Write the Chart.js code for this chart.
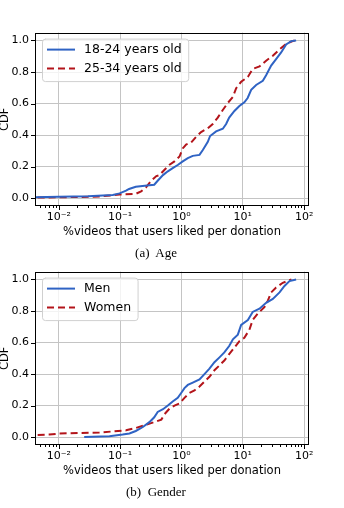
<!DOCTYPE html>
<html><head><meta charset="utf-8">
<script src="https://cdn.jsdelivr.net/npm/chart.js@4.4.1/dist/chart.umd.min.js"></script>
<style>
html,body{margin:0;padding:0;background:#fff;width:344px;height:508px;overflow:hidden;position:relative}
.c{position:absolute;left:0;width:330px;height:226px}
.cap{position:absolute;left:0;width:312px;height:16px;line-height:16px;text-align:center;font-family:"Liberation Serif","DejaVu Serif",serif;font-size:13px;color:#000;white-space:pre}
</style></head><body>
<div class="c" style="top:20px"><canvas id="c1" width="330" height="226"></canvas></div>
<div class="c" style="top:259px"><canvas id="c2" width="330" height="226"></canvas></div>
<div class="cap" style="top:245px">(a)  Age</div>
<div class="cap" style="top:484px">(b)  Gender</div>
<script>
// ---- data ----
const ageYoungLabel = '18-24 years old';
const ageYoungX = [0.003, 0.01, 0.03, 0.076, 0.098, 0.125, 0.14, 0.18, 0.30, 0.36, 0.41, 0.50, 0.60, 0.72, 0.87, 1.05, 1.27, 1.53, 1.97, 2.23, 2.69, 2.93, 3.67, 4.72, 5.35, 6.0, 7.3, 8.8, 10.6, 12.0, 13.7, 16.5, 21.2, 24, 29, 34.9, 42.2, 50.9, 61.6, 74];
const ageYoungY = [0.005, 0.008, 0.012, 0.02, 0.03, 0.047, 0.058, 0.072, 0.082, 0.085, 0.11, 0.146, 0.17, 0.19, 0.21, 0.233, 0.254, 0.268, 0.274, 0.305, 0.357, 0.394, 0.423, 0.44, 0.47, 0.511, 0.553, 0.584, 0.608, 0.635, 0.687, 0.718, 0.744, 0.779, 0.841, 0.882, 0.924, 0.975, 0.996, 1.0];

const ageOldLabel = '25-34 years old';
const ageOldX = [0.003, 0.01, 0.046, 0.098, 0.18, 0.22, 0.265, 0.32, 0.39, 0.44, 0.53, 0.64, 0.77, 0.93, 1.05, 1.19, 1.44, 1.73, 2.09, 2.69, 3.24, 3.91, 4.72, 5.7, 6.87, 7.8, 9.4, 12.1, 14.5, 18.7, 24, 30.9, 39.7, 50.9, 65, 70];
const ageOldY = [0.004, 0.005, 0.01, 0.023, 0.027, 0.043, 0.068, 0.109, 0.14, 0.146, 0.18, 0.212, 0.233, 0.264, 0.315, 0.34, 0.353, 0.388, 0.419, 0.443, 0.47, 0.511, 0.559, 0.604, 0.641, 0.697, 0.738, 0.769, 0.82, 0.835, 0.872, 0.903, 0.944, 0.979, 0.996, 1.0];

const menLabel = 'Men';
const menX = [0.026, 0.067, 0.11, 0.142, 0.18, 0.235, 0.30, 0.36, 0.41, 0.50, 0.60, 0.72, 0.87, 0.99, 1.12, 1.27, 1.53, 1.97, 2.37, 2.86, 3.45, 4.17, 5.0, 6.0, 6.9, 8.3, 9.4, 12.1, 14.5, 18.7, 24, 30.9, 39.7, 47.8, 57.7, 74];
const menY = [0.0, 0.006, 0.016, 0.023, 0.039, 0.064, 0.095, 0.126, 0.16, 0.177, 0.2, 0.226, 0.249, 0.28, 0.311, 0.331, 0.346, 0.366, 0.40, 0.434, 0.475, 0.506, 0.537, 0.578, 0.62, 0.65, 0.712, 0.743, 0.794, 0.815, 0.852, 0.877, 0.918, 0.959, 0.99, 1.0];

const womenLabel = 'Women';
const womenX = [0.003, 0.007, 0.0102, 0.046, 0.125, 0.18, 0.265, 0.39, 0.47, 0.53, 0.64, 0.77, 0.93, 1.12, 1.35, 1.63, 1.97, 2.37, 2.86, 3.45, 4.17, 5.0, 6.0, 7.3, 8.8, 10.6, 12.8, 14.5, 17.6, 22.5, 25.6, 29, 34.9, 44.9, 57.7, 62];
const womenY = [0.012, 0.016, 0.023, 0.029, 0.043, 0.058, 0.078, 0.10, 0.111, 0.146, 0.181, 0.2, 0.214, 0.249, 0.28, 0.296, 0.321, 0.352, 0.383, 0.424, 0.455, 0.486, 0.527, 0.568, 0.609, 0.63, 0.681, 0.743, 0.784, 0.825, 0.866, 0.918, 0.949, 0.979, 0.996, 1.0];

const yTickValues = [0, 0.2, 0.4, 0.6, 0.8, 1.0];
const yTickLabels = ['0.0', '0.2', '0.4', '0.6', '0.8', '1.0'];
const xMajorValues = [0.01, 0.1, 1, 10, 100];
const xMajorLabels = ['10\u207B\u00B2', '10\u207B\u00B9', '10\u2070', '10\u00B9', '10\u00B2'];
const xAxisTitle = '%videos that users liked per donation';
const yAxisTitle = 'CDF';
const X_MIN = 0.0041, X_MAX = 120, Y_MIN = -0.05, Y_MAX = 1.05;

// ---- styles ----
const BLUE = '#2f63c4', RED = '#b3141a', GRID = '#c4c4c4';
Chart.defaults.font.family = '"DejaVu Sans", sans-serif';
Chart.defaults.color = '#000';

function buildXTicks() {
  const t = [];
  for (let e = -3; e <= 2; e++) {
    for (let m = 1; m <= 9; m++) {
      const v = +(m * Math.pow(10, e)).toPrecision(6);
      if (v >= X_MIN && v <= X_MAX) t.push({ value: v, major: m === 1 });
    }
  }
  return t;
}

const deco = {
  id: 'deco',
  afterDatasetsDraw(chart) {
    const { ctx, chartArea: a } = chart;
    ctx.save();
    ctx.font = '12.5px "DejaVu Sans"';
    const ds = chart.data.datasets;
    const tw = Math.max(...ds.map(d => ctx.measureText(d.label).width));
    const bx = a.left + 7, by = a.top + 6, bw = 42 + tw + 7, bh = 43, r = 3;
    ctx.beginPath();
    ctx.moveTo(bx + r, by + 0.5);
    ctx.arcTo(bx + bw, by + 0.5, bx + bw, by + bh, r);
    ctx.arcTo(bx + bw, by + bh, bx, by + bh, r);
    ctx.arcTo(bx + 0.5, by + bh, bx + 0.5, by, r);
    ctx.arcTo(bx + 0.5, by + 0.5, bx + bw, by + 0.5, r);
    ctx.closePath();
    ctx.fillStyle = 'rgba(255,255,255,0.8)';
    ctx.fill();
    ctx.strokeStyle = '#d0d0d0';
    ctx.lineWidth = 1;
    ctx.stroke();
    ds.forEach((d, i) => {
      const y = by + 11 + i * 19;
      ctx.beginPath();
      ctx.setLineDash(d.borderDash || []);
      ctx.strokeStyle = d.borderColor;
      ctx.lineWidth = 2;
      ctx.moveTo(bx + 5, y);
      ctx.lineTo(bx + 33, y);
      ctx.stroke();
      ctx.setLineDash([]);
      ctx.fillStyle = '#000';
      ctx.textBaseline = 'middle';
      ctx.textAlign = 'left';
      ctx.fillText(d.label, bx + 42, y + 0.5);
    });
    ctx.restore();
  },
  afterDraw(chart) {
    const { ctx, chartArea: a, scales } = chart;
    ctx.save();
    ctx.strokeStyle = '#000';
    ctx.lineWidth = 1;
    ctx.strokeRect(Math.round(a.left) + 0.5, Math.round(a.top) + 0.5,
      Math.round(a.right - a.left) - 1, Math.round(a.bottom - a.top) - 1);
    ctx.beginPath();
    scales.y.ticks.forEach(t => {
      const y = Math.round(scales.y.getPixelForValue(t.value)) + 0.5;
      ctx.moveTo(a.left - 4, y); ctx.lineTo(a.left, y);
    });
    scales.x.ticks.forEach(t => {
      const x = Math.round(scales.x.getPixelForValue(t.value)) + 0.5;
      ctx.moveTo(x, a.bottom); ctx.lineTo(x, a.bottom + (t.major ? 4 : 2));
    });
    ctx.stroke();
    ctx.restore();
  }
};

function makeChart(id, series) {
  return new Chart(document.getElementById(id), {
    type: 'line',
    data: {
      datasets: series.map(s => ({
        label: s.label,
        data: s.xs.map((x, i) => ({ x, y: s.ys[i] })),
        borderColor: s.color,
        borderDash: s.dash,
        borderWidth: 2,
        pointRadius: 0,
        tension: 0,
        fill: false
      }))
    },
    options: {
      responsive: false,
      animation: false,
      devicePixelRatio: 1,
      layout: { padding: { left: 0, right: 21, top: 8, bottom: 0 } },
      plugins: { legend: { display: false }, tooltip: { enabled: false } },
      scales: {
        x: {
          type: 'logarithmic',
          min: X_MIN, max: X_MAX,
          afterBuildTicks(scale) { scale.ticks = buildXTicks(); },
          afterFit(scale) { scale.height = 40; },
          ticks: {
            autoSkip: false, maxRotation: 0, padding: 5,
            font: { size: 11 }, color: '#000',
            callback(v) {
              const k = xMajorValues.findIndex(m => Math.abs(m - v) / m < 1e-6);
              return k >= 0 ? xMajorLabels[k] : '';
            }
          },
          grid: {
            drawTicks: false, lineWidth: 1,
            color: c => (c.tick && c.tick.major) ? GRID : 'rgba(0,0,0,0)'
          },
          border: { display: false },
          title: { display: true, text: xAxisTitle, font: { size: 11.5 }, color: '#000', padding: { top: 0, bottom: 7 } }
        },
        y: {
          type: 'linear',
          min: Y_MIN, max: Y_MAX,
          afterBuildTicks(scale) { scale.ticks = yTickValues.map(v => ({ value: v })); },
          afterFit(scale) { scale.width = 35; },
          ticks: {
            autoSkip: false, padding: 6, font: { size: 11 }, color: '#000',
            callback(v) {
              const k = yTickValues.findIndex(m => Math.abs(m - v) < 1e-9);
              return k >= 0 ? yTickLabels[k] : '';
            }
          },
          grid: { drawTicks: false, lineWidth: 1, color: GRID },
          border: { display: false },
          title: { display: true, text: yAxisTitle, font: { size: 11.5, lineHeight: 1 }, color: '#000', padding: { top: -1, bottom: 0 } }
        }
      }
    },
    plugins: [deco]
  });
}

makeChart('c1', [
  { label: ageYoungLabel, xs: ageYoungX, ys: ageYoungY, color: BLUE, dash: [] },
  { label: ageOldLabel, xs: ageOldX, ys: ageOldY, color: RED, dash: [7, 4] }
]);
makeChart('c2', [
  { label: menLabel, xs: menX, ys: menY, color: BLUE, dash: [] },
  { label: womenLabel, xs: womenX, ys: womenY, color: RED, dash: [7, 4] }
]);
</script>
</body></html>
